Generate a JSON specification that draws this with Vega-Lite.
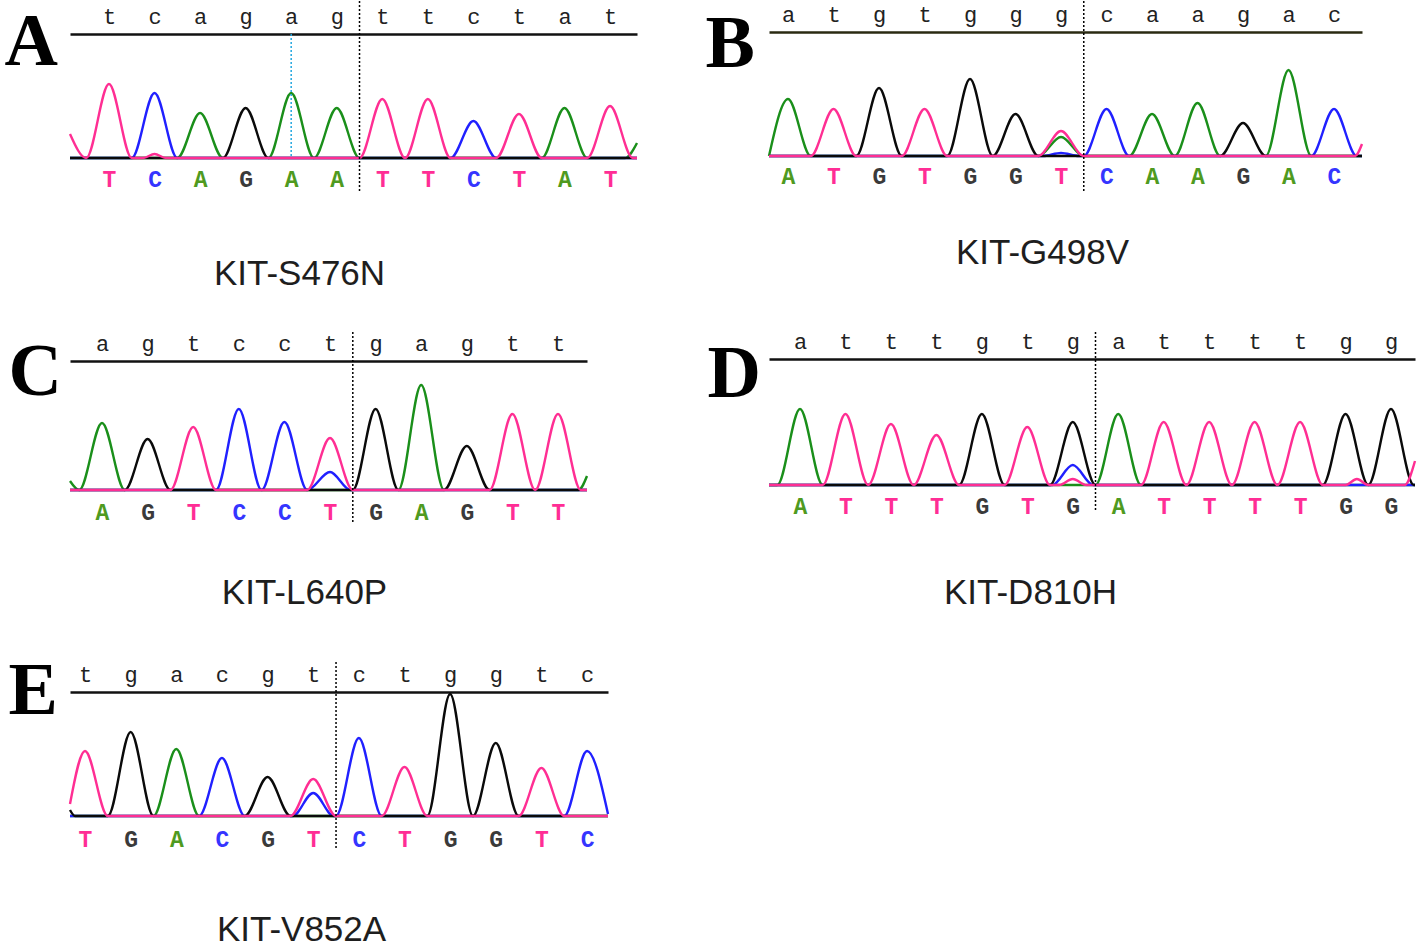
{
  "$schema": "https://vega.github.io/schema/vega-lite/v6.json",
  "background": "white",
  "padding": {"left": 4, "top": 0, "right": 0, "bottom": 0},
  "bounds": "flush",
  "columns": 2,
  "spacing": {"row": 139, "column": 132},
  "config": {
    "view": {"stroke": null},
    "axis": {"grid": false, "ticks": false, "tickSize": 0, "labelFlush": false, "labelOverlap": false, "labelBound": false, "domain": false},
    "line": {"strokeWidth": 2.4, "strokeJoin": "round", "interpolate": "monotone"}
  },
  "datasets": {
    "trA": [
      {"b":"A","x":-0.856,"y":0},{"b":"A","x":1.5,"y":0},{"b":"A","x":2,"y":45},{"b":"A","x":2.5,"y":0},{"b":"A","x":3.5,"y":0},{"b":"A","x":4,"y":65},{"b":"A","x":4.5,"y":0},{"b":"A","x":5,"y":50},{"b":"A","x":5.5,"y":0},{"b":"A","x":9.5,"y":0},{"b":"A","x":10,"y":50},{"b":"A","x":10.5,"y":0},{"b":"A","x":11.33,"y":0},{"b":"A","x":11.592,"y":15},
      {"b":"C","x":-0.856,"y":0},{"b":"C","x":0.5,"y":0},{"b":"C","x":1,"y":65},{"b":"C","x":1.5,"y":0},{"b":"C","x":7.5,"y":0},{"b":"C","x":8,"y":37},{"b":"C","x":8.5,"y":0},{"b":"C","x":11.592,"y":0},
      {"b":"G","x":-0.856,"y":0},{"b":"G","x":2.5,"y":0},{"b":"G","x":3,"y":50},{"b":"G","x":3.5,"y":0},{"b":"G","x":11.592,"y":0},
      {"b":"T","x":-0.856,"y":24},{"b":"T","x":-0.5,"y":0},{"b":"T","x":0,"y":74},{"b":"T","x":0.5,"y":0},{"b":"T","x":0.75,"y":0},{"b":"T","x":1,"y":4},{"b":"T","x":1.25,"y":0},{"b":"T","x":5.5,"y":0},{"b":"T","x":6,"y":59},{"b":"T","x":6.5,"y":0},{"b":"T","x":7,"y":59},{"b":"T","x":7.5,"y":0},{"b":"T","x":8.5,"y":0},{"b":"T","x":9,"y":44},{"b":"T","x":9.5,"y":0},{"b":"T","x":10.5,"y":0},{"b":"T","x":11,"y":52},{"b":"T","x":11.5,"y":0},{"b":"T","x":11.592,"y":0}
    ],
    "trB": [
      {"b":"A","x":-0.418,"y":0},{"b":"A","x":0,"y":57},{"b":"A","x":0.5,"y":0},{"b":"A","x":5.5,"y":0},{"b":"A","x":6,"y":19},{"b":"A","x":6.5,"y":0},{"b":"A","x":7.5,"y":0},{"b":"A","x":8,"y":42},{"b":"A","x":8.5,"y":0},{"b":"A","x":9,"y":53},{"b":"A","x":9.5,"y":0},{"b":"A","x":10.5,"y":0},{"b":"A","x":11,"y":86},{"b":"A","x":11.5,"y":0},{"b":"A","x":12.615,"y":0},
      {"b":"C","x":-0.418,"y":0},{"b":"C","x":5.6,"y":0},{"b":"C","x":6,"y":3},{"b":"C","x":6.4,"y":0},{"b":"C","x":6.5,"y":0},{"b":"C","x":7,"y":47},{"b":"C","x":7.5,"y":0},{"b":"C","x":11.5,"y":0},{"b":"C","x":12,"y":47},{"b":"C","x":12.5,"y":0},{"b":"C","x":12.615,"y":0},
      {"b":"G","x":-0.418,"y":0},{"b":"G","x":1.5,"y":0},{"b":"G","x":2,"y":68},{"b":"G","x":2.5,"y":0},{"b":"G","x":3.5,"y":0},{"b":"G","x":4,"y":77},{"b":"G","x":4.5,"y":0},{"b":"G","x":5,"y":42},{"b":"G","x":5.5,"y":0},{"b":"G","x":9.5,"y":0},{"b":"G","x":10,"y":33},{"b":"G","x":10.5,"y":0},{"b":"G","x":12.615,"y":0},
      {"b":"T","x":-0.418,"y":0},{"b":"T","x":0.5,"y":0},{"b":"T","x":1,"y":47},{"b":"T","x":1.5,"y":0},{"b":"T","x":2.5,"y":0},{"b":"T","x":3,"y":47},{"b":"T","x":3.5,"y":0},{"b":"T","x":5.5,"y":0},{"b":"T","x":6,"y":25},{"b":"T","x":6.5,"y":0},{"b":"T","x":12.46,"y":0},{"b":"T","x":12.615,"y":12}
    ],
    "trC": [
      {"b":"A","x":-0.702,"y":9},{"b":"A","x":-0.5,"y":0},{"b":"A","x":0,"y":67},{"b":"A","x":0.5,"y":0},{"b":"A","x":6.5,"y":0},{"b":"A","x":7,"y":105},{"b":"A","x":7.5,"y":0},{"b":"A","x":10.45,"y":0},{"b":"A","x":10.636,"y":14},
      {"b":"C","x":-0.702,"y":0},{"b":"C","x":2.5,"y":0},{"b":"C","x":3,"y":81},{"b":"C","x":3.5,"y":0},{"b":"C","x":4,"y":68},{"b":"C","x":4.5,"y":0},{"b":"C","x":5,"y":18},{"b":"C","x":5.45,"y":0},{"b":"C","x":10.636,"y":0},
      {"b":"G","x":-0.702,"y":0},{"b":"G","x":0.5,"y":0},{"b":"G","x":1,"y":51},{"b":"G","x":1.5,"y":0},{"b":"G","x":5.5,"y":0},{"b":"G","x":6,"y":81},{"b":"G","x":6.5,"y":0},{"b":"G","x":7.5,"y":0},{"b":"G","x":8,"y":44},{"b":"G","x":8.5,"y":0},{"b":"G","x":10.636,"y":0},
      {"b":"T","x":-0.702,"y":0},{"b":"T","x":1.5,"y":0},{"b":"T","x":2,"y":63},{"b":"T","x":2.5,"y":0},{"b":"T","x":4.5,"y":0},{"b":"T","x":5,"y":52},{"b":"T","x":5.5,"y":0},{"b":"T","x":8.5,"y":0},{"b":"T","x":9,"y":76},{"b":"T","x":9.5,"y":0},{"b":"T","x":10,"y":76},{"b":"T","x":10.5,"y":0},{"b":"T","x":10.636,"y":0}
    ],
    "trD": [
      {"b":"A","x":-0.682,"y":0},{"b":"A","x":-0.5,"y":0},{"b":"A","x":0,"y":76},{"b":"A","x":0.5,"y":0},{"b":"A","x":6.5,"y":0},{"b":"A","x":7,"y":71},{"b":"A","x":7.5,"y":0},{"b":"A","x":13.528,"y":0},
      {"b":"C","x":-0.682,"y":0},{"b":"C","x":5.55,"y":0},{"b":"C","x":6,"y":20},{"b":"C","x":6.45,"y":0},{"b":"C","x":13.528,"y":0},
      {"b":"G","x":-0.682,"y":0},{"b":"G","x":3.5,"y":0},{"b":"G","x":4,"y":71},{"b":"G","x":4.5,"y":0},{"b":"G","x":5.5,"y":0},{"b":"G","x":6,"y":63},{"b":"G","x":6.5,"y":0},{"b":"G","x":11.5,"y":0},{"b":"G","x":12,"y":71},{"b":"G","x":12.5,"y":0},{"b":"G","x":13,"y":76},{"b":"G","x":13.5,"y":0},{"b":"G","x":13.528,"y":0},
      {"b":"T","x":-0.682,"y":0},{"b":"T","x":0.5,"y":0},{"b":"T","x":1,"y":71},{"b":"T","x":1.5,"y":0},{"b":"T","x":2,"y":61},{"b":"T","x":2.5,"y":0},{"b":"T","x":3,"y":50},{"b":"T","x":3.5,"y":0},{"b":"T","x":4.5,"y":0},{"b":"T","x":5,"y":58},{"b":"T","x":5.5,"y":0},{"b":"T","x":5.7,"y":0},{"b":"T","x":6,"y":6},{"b":"T","x":6.3,"y":0},{"b":"T","x":7.5,"y":0},{"b":"T","x":8,"y":63},{"b":"T","x":8.5,"y":0},{"b":"T","x":9,"y":63},{"b":"T","x":9.5,"y":0},{"b":"T","x":10,"y":63},{"b":"T","x":10.5,"y":0},{"b":"T","x":11,"y":63},{"b":"T","x":11.5,"y":0},{"b":"T","x":12,"y":0},{"b":"T","x":12.25,"y":6},{"b":"T","x":12.5,"y":0},{"b":"T","x":13.3,"y":0},{"b":"T","x":13.528,"y":24}
    ],
    "trE": [
      {"b":"A","x":-0.329,"y":0},{"b":"A","x":1.5,"y":0},{"b":"A","x":2,"y":67},{"b":"A","x":2.5,"y":0},{"b":"A","x":11.459,"y":0},
      {"b":"C","x":-0.329,"y":0},{"b":"C","x":2.5,"y":0},{"b":"C","x":3,"y":58},{"b":"C","x":3.5,"y":0},{"b":"C","x":4.55,"y":0},{"b":"C","x":5,"y":23},{"b":"C","x":5.45,"y":0},{"b":"C","x":5.5,"y":0},{"b":"C","x":6,"y":78},{"b":"C","x":6.5,"y":0},{"b":"C","x":10.5,"y":0},{"b":"C","x":11,"y":65},{"b":"C","x":11.459,"y":2},
      {"b":"G","x":-0.329,"y":6},{"b":"G","x":-0.22,"y":0},{"b":"G","x":0.5,"y":0},{"b":"G","x":1,"y":84},{"b":"G","x":1.5,"y":0},{"b":"G","x":3.5,"y":0},{"b":"G","x":4,"y":39},{"b":"G","x":4.5,"y":0},{"b":"G","x":7.5,"y":0},{"b":"G","x":8,"y":122},{"b":"G","x":8.5,"y":0},{"b":"G","x":9,"y":73},{"b":"G","x":9.5,"y":0},{"b":"G","x":11.459,"y":0},
      {"b":"T","x":-0.329,"y":12},{"b":"T","x":0,"y":65},{"b":"T","x":0.5,"y":0},{"b":"T","x":4.5,"y":0},{"b":"T","x":5,"y":37},{"b":"T","x":5.5,"y":0},{"b":"T","x":6.5,"y":0},{"b":"T","x":7,"y":49},{"b":"T","x":7.5,"y":0},{"b":"T","x":9.5,"y":0},{"b":"T","x":10,"y":48},{"b":"T","x":10.5,"y":0},{"b":"T","x":11.459,"y":0}
    ]
  },
  "concat": [
    {
      "width": 567, "height": 192,
      "layer": [
        {
          "data": {"name": "trA"},
          "mark": {"type": "line"},
          "encoding": {
            "x": {"field": "x", "type": "quantitative", "scale": {"domain": [-0.856, 11.592], "nice": false, "zero": false},
              "axis": {"orient": "bottom", "offset": -7, "values": [0,1,2,3,4,5,6,7,8,9,10,11],
                "labelExpr": "substring('TCAGAATTCTAT', datum.value, datum.value + 1)",
                "labelColor": {"condition": [
                  {"test": "substring('TCAGAATTCTAT', datum.value, datum.value + 1) == 'T'", "value": "#ff2d95"},
                  {"test": "substring('TCAGAATTCTAT', datum.value, datum.value + 1) == 'C'", "value": "#3535ff"},
                  {"test": "substring('TCAGAATTCTAT', datum.value, datum.value + 1) == 'A'", "value": "#4f9a20"}], "value": "#3a3a3a"},
                "labelFont": "Liberation Mono", "labelFontSize": 23, "labelFontWeight": "bold", "labelPadding": 0, "labelBaseline": "alphabetic", "labelAlign": "center",
                "title": "KIT-S476N", "titleX": 229, "titleY": 98, "titleAlign": "center", "titleBaseline": "alphabetic", "titleAngle": 0,
                "titleFont": "Liberation Sans", "titleFontSize": 35, "titleFontWeight": "normal", "titleColor": "#1e1e1e"}},
            "y": {"field": "y", "type": "quantitative", "scale": {"domain": [-35, 157], "nice": false, "zero": false},
              "axis": {"title": "A", "labels": false, "titleAngle": 0, "titleX": -66, "titleY": 63, "titleAlign": "left", "titleBaseline": "alphabetic",
                "titleFont": "Liberation Serif", "titleFontSize": 74, "titleFontWeight": "bold", "titleColor": "#000"}},
            "color": {"field": "b", "type": "nominal", "scale": {"domain": ["A","C","G","T"], "range": ["#1a8f1a","#2020ff","#0a0a0a","#ff2e93"]}, "legend": null}
          }
        },
        {
          "data": {"values": [{"i": 5.5}]},
          "mark": {"type": "rule", "color": "#000", "strokeWidth": 1.5, "strokeDash": [2, 2]},
          "encoding": {
            "x": {"field": "i", "type": "quantitative", "scale": {"domain": [-0.856, 11.592], "nice": false, "zero": false},
              "axis": {"orient": "top", "offset": -33, "values": [0,1,2,3,4,5,6,7,8,9,10,11],
                "labelExpr": "substring('tcagagttctat', datum.value, datum.value + 1)",
                "labelFont": "Liberation Mono", "labelFontSize": 22, "labelColor": "#222", "labelPadding": 11, "labelBaseline": "alphabetic", "labelAlign": "center",
                "domain": true, "domainColor": "#111", "domainWidth": 2.5, "title": null}}
          }
        },
        {
          "data": {"values": [{"i": 4, "lo": 2, "hi": 124}]},
          "mark": {"type": "rule", "color": "#22a7e0", "strokeWidth": 1.5, "strokeDash": [2, 2]},
          "encoding": {
            "x": {"field": "i", "type": "quantitative", "scale": {"domain": [-0.856, 11.592], "nice": false, "zero": false}, "axis": null},
            "y": {"field": "lo", "type": "quantitative", "scale": {"domain": [-35, 157], "nice": false, "zero": false}, "axis": null},
            "y2": {"field": "hi"}
          }
        }
      ],
      "resolve": {"axis": {"x": "independent", "y": "independent"}}
    },
    {
      "width": 593, "height": 190,
      "layer": [
        {
          "data": {"name": "trB"},
          "mark": {"type": "line"},
          "encoding": {
            "x": {"field": "x", "type": "quantitative", "scale": {"domain": [-0.418, 12.615], "nice": false, "zero": false},
              "axis": {"orient": "bottom", "offset": -8, "values": [0,1,2,3,4,5,6,7,8,9,10,11,12],
                "labelExpr": "substring('ATGTGGTCAAGAC', datum.value, datum.value + 1)",
                "labelColor": {"condition": [
                  {"test": "substring('ATGTGGTCAAGAC', datum.value, datum.value + 1) == 'T'", "value": "#ff2d95"},
                  {"test": "substring('ATGTGGTCAAGAC', datum.value, datum.value + 1) == 'C'", "value": "#3535ff"},
                  {"test": "substring('ATGTGGTCAAGAC', datum.value, datum.value + 1) == 'A'", "value": "#4f9a20"}], "value": "#3a3a3a"},
                "labelFont": "Liberation Mono", "labelFontSize": 23, "labelFontWeight": "bold", "labelPadding": 0, "labelBaseline": "alphabetic", "labelAlign": "center",
                "title": "KIT-G498V", "titleX": 273, "titleY": 80, "titleAlign": "center", "titleBaseline": "alphabetic", "titleAngle": 0,
                "titleFont": "Liberation Sans", "titleFontSize": 35, "titleFontWeight": "normal", "titleColor": "#1e1e1e"}},
            "y": {"field": "y", "type": "quantitative", "scale": {"domain": [-35, 155], "nice": false, "zero": false},
              "axis": {"title": "B", "labels": false, "titleAngle": 0, "titleX": -64, "titleY": 65, "titleAlign": "left", "titleBaseline": "alphabetic",
                "titleFont": "Liberation Serif", "titleFontSize": 74, "titleFontWeight": "bold", "titleColor": "#000"}},
            "color": {"field": "b", "type": "nominal", "scale": {"domain": ["A","C","G","T"], "range": ["#1a8f1a","#2020ff","#0a0a0a","#ff2e93"]}, "legend": null}
          }
        },
        {
          "data": {"values": [{"i": 6.5}]},
          "mark": {"type": "rule", "color": "#000", "strokeWidth": 1.5, "strokeDash": [2, 2]},
          "encoding": {
            "x": {"field": "i", "type": "quantitative", "scale": {"domain": [-0.418, 12.615], "nice": false, "zero": false},
              "axis": {"orient": "top", "offset": -31, "values": [0,1,2,3,4,5,6,7,8,9,10,11,12],
                "labelExpr": "substring('atgtgggcaagac', datum.value, datum.value + 1)",
                "labelFont": "Liberation Mono", "labelFontSize": 22, "labelColor": "#222", "labelPadding": 11, "labelBaseline": "alphabetic", "labelAlign": "center",
                "domain": true, "domainColor": "#2a2a12", "domainWidth": 2.5, "title": null}}
          }
        }
      ],
      "resolve": {"axis": {"x": "independent", "y": "independent"}}
    },
    {
      "width": 517, "height": 191,
      "layer": [
        {
          "data": {"name": "trC"},
          "mark": {"type": "line"},
          "encoding": {
            "x": {"field": "x", "type": "quantitative", "scale": {"domain": [-0.702, 10.636], "nice": false, "zero": false},
              "axis": {"orient": "bottom", "offset": -4, "values": [0,1,2,3,4,5,6,7,8,9,10],
                "labelExpr": "substring('AGTCCTGAGTT', datum.value, datum.value + 1)",
                "labelColor": {"condition": [
                  {"test": "substring('AGTCCTGAGTT', datum.value, datum.value + 1) == 'T'", "value": "#ff2d95"},
                  {"test": "substring('AGTCCTGAGTT', datum.value, datum.value + 1) == 'C'", "value": "#3535ff"},
                  {"test": "substring('AGTCCTGAGTT', datum.value, datum.value + 1) == 'A'", "value": "#4f9a20"}], "value": "#3a3a3a"},
                "labelFont": "Liberation Mono", "labelFontSize": 23, "labelFontWeight": "bold", "labelPadding": 0, "labelBaseline": "alphabetic", "labelAlign": "center",
                "title": "KIT-L640P", "titleX": 234, "titleY": 84, "titleAlign": "center", "titleBaseline": "alphabetic", "titleAngle": 0,
                "titleFont": "Liberation Sans", "titleFontSize": 35, "titleFontWeight": "normal", "titleColor": "#1e1e1e"}},
            "y": {"field": "y", "type": "quantitative", "scale": {"domain": [-33, 158], "nice": false, "zero": false},
              "axis": {"title": "C", "labels": false, "titleAngle": 0, "titleX": -62, "titleY": 62, "titleAlign": "left", "titleBaseline": "alphabetic",
                "titleFont": "Liberation Serif", "titleFontSize": 74, "titleFontWeight": "bold", "titleColor": "#000"}},
            "color": {"field": "b", "type": "nominal", "scale": {"domain": ["A","C","G","T"], "range": ["#1a8f1a","#2020ff","#0a0a0a","#ff2e93"]}, "legend": null}
          }
        },
        {
          "data": {"values": [{"i": 5.5}]},
          "mark": {"type": "rule", "color": "#000", "strokeWidth": 1.5, "strokeDash": [2, 2]},
          "encoding": {
            "x": {"field": "i", "type": "quantitative", "scale": {"domain": [-0.702, 10.636], "nice": false, "zero": false},
              "axis": {"orient": "top", "offset": -29, "values": [0,1,2,3,4,5,6,7,8,9,10],
                "labelExpr": "substring('agtcctgagtt', datum.value, datum.value + 1)",
                "labelFont": "Liberation Mono", "labelFontSize": 22, "labelColor": "#222", "labelPadding": 11, "labelBaseline": "alphabetic", "labelAlign": "center",
                "domain": true, "domainColor": "#111", "domainWidth": 2.5, "title": null}}
          }
        }
      ],
      "resolve": {"axis": {"x": "independent", "y": "independent"}}
    },
    {
      "width": 646, "height": 179,
      "layer": [
        {
          "data": {"name": "trD"},
          "mark": {"type": "line"},
          "encoding": {
            "x": {"field": "x", "type": "quantitative", "scale": {"domain": [-0.682, 13.528], "nice": false, "zero": false},
              "axis": {"orient": "bottom", "offset": 2, "values": [0,1,2,3,4,5,6,7,8,9,10,11,12,13],
                "labelExpr": "substring('ATTTGTGATTTTGG', datum.value, datum.value + 1)",
                "labelColor": {"condition": [
                  {"test": "substring('ATTTGTGATTTTGG', datum.value, datum.value + 1) == 'T'", "value": "#ff2d95"},
                  {"test": "substring('ATTTGTGATTTTGG', datum.value, datum.value + 1) == 'C'", "value": "#3535ff"},
                  {"test": "substring('ATTTGTGATTTTGG', datum.value, datum.value + 1) == 'A'", "value": "#4f9a20"}], "value": "#3a3a3a"},
                "labelFont": "Liberation Mono", "labelFontSize": 23, "labelFontWeight": "bold", "labelPadding": 0, "labelBaseline": "alphabetic", "labelAlign": "center",
                "title": "KIT-D810H", "titleX": 261, "titleY": 90, "titleAlign": "center", "titleBaseline": "alphabetic", "titleAngle": 0,
                "titleFont": "Liberation Sans", "titleFontSize": 35, "titleFontWeight": "normal", "titleColor": "#1e1e1e"}},
            "y": {"field": "y", "type": "quantitative", "scale": {"domain": [-26, 153], "nice": false, "zero": false},
              "axis": {"title": "D", "labels": false, "titleAngle": 0, "titleX": -62, "titleY": 64, "titleAlign": "left", "titleBaseline": "alphabetic",
                "titleFont": "Liberation Serif", "titleFontSize": 74, "titleFontWeight": "bold", "titleColor": "#000"}},
            "color": {"field": "b", "type": "nominal", "scale": {"domain": ["A","C","G","T"], "range": ["#1a8f1a","#2020ff","#0a0a0a","#ff2e93"]}, "legend": null}
          }
        },
        {
          "data": {"values": [{"i": 6.5}]},
          "mark": {"type": "rule", "color": "#000", "strokeWidth": 1.5, "strokeDash": [2, 2]},
          "encoding": {
            "x": {"field": "i", "type": "quantitative", "scale": {"domain": [-0.682, 13.528], "nice": false, "zero": false},
              "axis": {"orient": "top", "offset": -27, "values": [0,1,2,3,4,5,6,7,8,9,10,11,12,13],
                "labelExpr": "substring('atttgtgattttgg', datum.value, datum.value + 1)",
                "labelFont": "Liberation Mono", "labelFontSize": 22, "labelColor": "#222", "labelPadding": 11, "labelBaseline": "alphabetic", "labelAlign": "center",
                "domain": true, "domainColor": "#111", "domainWidth": 2.5, "title": null}}
          }
        }
      ],
      "resolve": {"axis": {"x": "independent", "y": "independent"}}
    },
    {
      "width": 538, "height": 186,
      "layer": [
        {
          "data": {"name": "trE"},
          "mark": {"type": "line"},
          "encoding": {
            "x": {"field": "x", "type": "quantitative", "scale": {"domain": [-0.329, 11.459], "nice": false, "zero": false},
              "axis": {"orient": "bottom", "offset": -2, "values": [0,1,2,3,4,5,6,7,8,9,10,11],
                "labelExpr": "substring('TGACGTCTGGTC', datum.value, datum.value + 1)",
                "labelColor": {"condition": [
                  {"test": "substring('TGACGTCTGGTC', datum.value, datum.value + 1) == 'T'", "value": "#ff2d95"},
                  {"test": "substring('TGACGTCTGGTC', datum.value, datum.value + 1) == 'C'", "value": "#3535ff"},
                  {"test": "substring('TGACGTCTGGTC', datum.value, datum.value + 1) == 'A'", "value": "#4f9a20"}], "value": "#3a3a3a"},
                "labelFont": "Liberation Mono", "labelFontSize": 23, "labelFontWeight": "bold", "labelPadding": 0, "labelBaseline": "alphabetic", "labelAlign": "center",
                "title": "KIT-V852A", "titleX": 231, "titleY": 94, "titleAlign": "center", "titleBaseline": "alphabetic", "titleAngle": 0,
                "titleFont": "Liberation Sans", "titleFontSize": 35, "titleFontWeight": "normal", "titleColor": "#1e1e1e"}},
            "y": {"field": "y", "type": "quantitative", "scale": {"domain": [-32, 154], "nice": false, "zero": false},
              "axis": {"title": "E", "labels": false, "titleAngle": 0, "titleX": -62, "titleY": 51, "titleAlign": "left", "titleBaseline": "alphabetic",
                "titleFont": "Liberation Serif", "titleFontSize": 74, "titleFontWeight": "bold", "titleColor": "#000"}},
            "color": {"field": "b", "type": "nominal", "scale": {"domain": ["A","C","G","T"], "range": ["#1a8f1a","#2020ff","#0a0a0a","#ff2e93"]}, "legend": null}
          }
        },
        {
          "data": {"values": [{"i": 5.5}]},
          "mark": {"type": "rule", "color": "#000", "strokeWidth": 1.5, "strokeDash": [2, 2]},
          "encoding": {
            "x": {"field": "i", "type": "quantitative", "scale": {"domain": [-0.329, 11.459], "nice": false, "zero": false},
              "axis": {"orient": "top", "offset": -30, "values": [0,1,2,3,4,5,6,7,8,9,10,11],
                "labelExpr": "substring('tgacgtctggtc', datum.value, datum.value + 1)",
                "labelFont": "Liberation Mono", "labelFontSize": 22, "labelColor": "#222", "labelPadding": 11, "labelBaseline": "alphabetic", "labelAlign": "center",
                "domain": true, "domainColor": "#111", "domainWidth": 2.5, "title": null}}
          }
        }
      ],
      "resolve": {"axis": {"x": "independent", "y": "independent"}}
    }
  ]
}
